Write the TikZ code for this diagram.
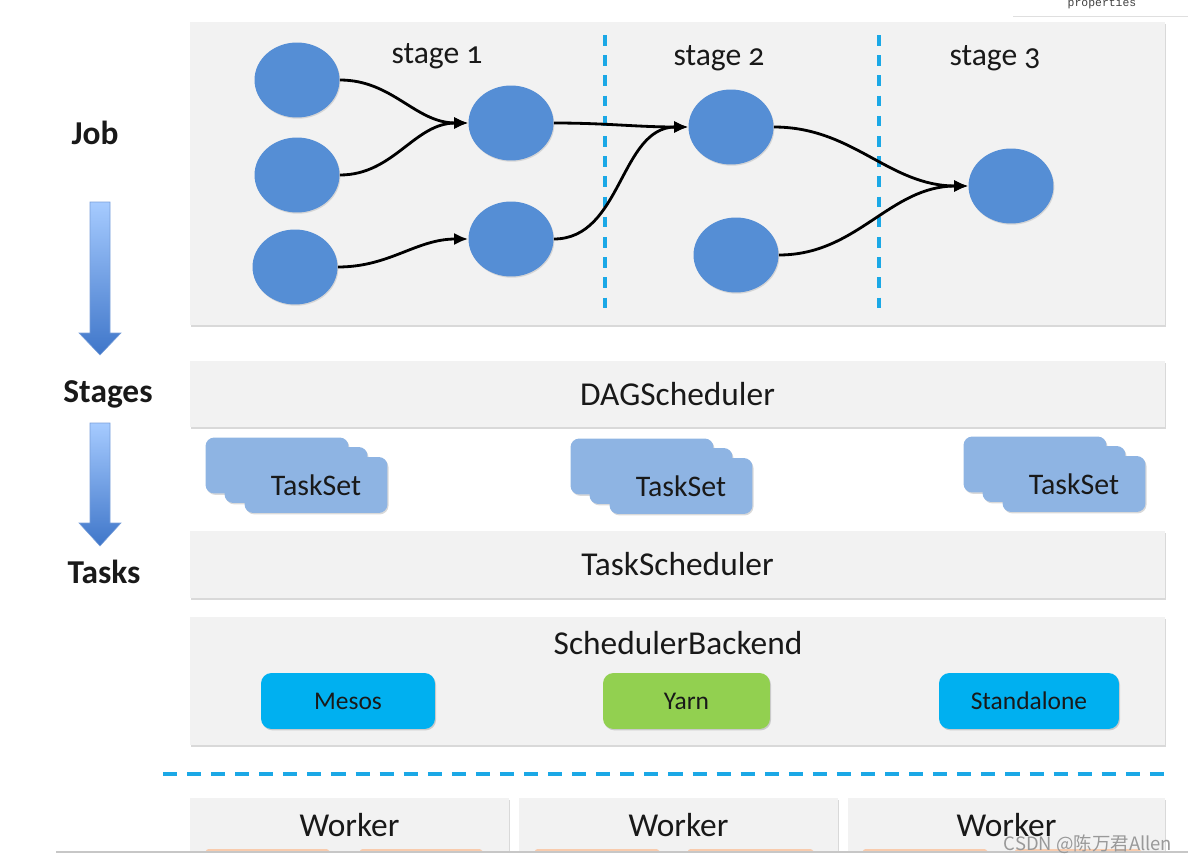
\documentclass[tikz,border=0pt]{standalone}
\usepackage{fontspec}
\setmainfont{Carlito}
\newfontfamily\stagefont[Numbers=OldStyle]{Carlito}
\newfontfamily\cjkfont{Noto Sans CJK SC}
\newfontfamily\propfont{Liberation Mono}
\usetikzlibrary{arrows.meta,shadows,positioning,shapes.geometric}
\definecolor{panelgray}{HTML}{F2F2F2}
\definecolor{stageblue}{HTML}{558ED5}
\definecolor{cardblue}{HTML}{8EB4E3}
\definecolor{skyblue}{HTML}{00B0F0}
\definecolor{dashblue}{HTML}{1BA8E6}
\definecolor{yarngreen}{HTML}{92D050}
\definecolor{peach}{HTML}{F8CBAD}
\definecolor{arrowtop}{HTML}{A6CBFF}
\definecolor{arrowbot}{HTML}{3F76C9}
\begin{document}
\begin{tikzpicture}[x=0.02cm, y=-0.02cm,
    panel/.style={rectangle, fill=panelgray, inner sep=0pt, minimum width=19.5cm,
      drop shadow={shadow xshift=0.7pt, shadow yshift=-0.9pt, opacity=0.3},
      font=\fontsize{19}{22}\selectfont, text=black!90},
    stagenode/.style={ellipse, fill=stageblue, minimum width=1.7cm, minimum height=1.5cm,
      inner sep=0pt, drop shadow={shadow xshift=0.5pt, shadow yshift=-0.7pt, opacity=0.25}},
    edge/.style={line width=1.6pt, -{Latex[length=8pt,width=7pt]}},
    card/.style={rectangle, rounded corners=5pt, fill=cardblue, minimum width=2.86cm,
      minimum height=1.12cm, inner sep=0pt,
      drop shadow={shadow xshift=0.6pt, shadow yshift=-0.8pt, opacity=0.3},
      font=\fontsize{17}{20}\selectfont, text=black!90},
    mode/.style={rectangle, rounded corners=6pt, minimum height=1.12cm, inner sep=0pt,
      drop shadow={shadow xshift=0.6pt, shadow yshift=-0.8pt, opacity=0.35},
      font=\fontsize{14.5}{17}\selectfont, text=black!90},
    sidelabel/.style={font=\bfseries\fontsize{19}{22}\selectfont, text=black!90},
    stagelabel/.style={font=\stagefont\fontsize{18}{21}\selectfont, text=black!90},
    cut/.style={dashblue, line width=2.3pt, dash pattern=on 6pt off 5.5pt},
    worker/.style={panel, minimum height=1.08cm}]

    \useasboundingbox (0,0) rectangle (1188,862);

    % Job panel with the stage graph
    \node[panel, minimum height=6.06cm] (job) at (677.5,173.5) {};
    \node[stagelabel] (L1) at (437,56) {stage 1};
    \node[stagelabel] (L2) at (719,58) {stage 2};
    \node[stagelabel] (L3) at (995,58) {stage 3};
    \draw[cut] (605,35) -- (605,315);
    \draw[cut] (879,35) -- (879,315);

    \node[stagenode] (A1) at (297,80) {};
    \node[stagenode] (A2) at (297,175) {};
    \node[stagenode] (A3) at (295,267) {};
    \node[stagenode] (B1) at (511,123) {};
    \node[stagenode] (B2) at (511,239) {};
    \node[stagenode] (C1) at (731,127) {};
    \node[stagenode] (C2) at (736,255) {};
    \node[stagenode] (D1) at (1011,186) {};

    % Draw edges
    \draw[edge] (A1.east) to[out=0, in=180] (B1.west);
    \draw[edge] (A2.east) to[out=0, in=180] (B1.west);
    \draw[edge] (A3.east) to[out=0, in=180] (B2.west);
    \draw[edge] (B1.east) to[out=0, in=180] (C1.west);
    \draw[edge] (B2.east) to[out=0, in=180] (C1.west);
    \draw[edge] (C1.east) to[out=0, in=180] (D1.west);
    \draw[edge] (C2.east) to[out=0, in=180] (D1.west);

    % Left side labels and arrows
    \node[sidelabel] (job label) at (95,133) {Job};
    \node[sidelabel] (stages label) at (108,394) {Stages};
    \node[sidelabel] (tasks label) at (104,572) {Tasks};
    \shade[top color=arrowtop, bottom color=arrowbot, draw=arrowbot!70, line width=0.3pt]
      (90,202) -- (110,202) -- (110,333) -- (121,333) -- (100,355) -- (79,333) -- (90,333) -- cycle;
    \shade[top color=arrowtop, bottom color=arrowbot, draw=arrowbot!70, line width=0.3pt]
      (90,423) -- (110,423) -- (110,523) -- (121,523) -- (100,546) -- (79,523) -- (90,523) -- cycle;

    % Scheduler layers
    \node[panel, minimum height=1.32cm] (dag) at (677.5,394) {DAGScheduler};

    \node[card] (T1a) at (277,465.5) {};
    \node[card] (T1b) at ([shift={(19,9.5)}]T1a) {};
    \node[card] (T1c) at ([shift={(20,10)}]T1b) {TaskSet};
    \node[card] (T2a) at (642,466.5) {};
    \node[card] (T2b) at ([shift={(19,9.5)}]T2a) {};
    \node[card] (T2c) at ([shift={(20,10)}]T2b) {TaskSet};
    \node[card] (T3a) at (1035,464.5) {};
    \node[card] (T3b) at ([shift={(19,9.5)}]T3a) {};
    \node[card] (T3c) at ([shift={(20,10)}]T3b) {TaskSet};

    \node[panel, minimum height=1.34cm] (task) at (677.5,564.5) {TaskScheduler};

    \node[panel, minimum height=2.56cm] (backend) at (677.5,681) {};
    \node[font=\fontsize{19}{22}\selectfont, text=black!90] (backend title) at (678,643) {SchedulerBackend};
    \node[mode, fill=skyblue, minimum width=3.48cm] (mesos) at (348,701) {Mesos};
    \node[mode, fill=yarngreen, minimum width=3.34cm] (yarn) at (686.5,701) {Yarn};
    \node[mode, fill=skyblue, minimum width=3.6cm] (standalone) at (1029,701) {Standalone};

    % Cluster side
    \draw[dashblue, line width=2.3pt, dash pattern=on 8pt off 5.7pt] (163,774) -- (1165,774);

    \node[worker, minimum width=6.38cm] (W1) at (349.5,825) {Worker};
    \node[worker, minimum width=6.38cm] (W2) at (678.5,825) {Worker};
    \node[worker, minimum width=6.34cm] (W3) at (1006.5,825) {Worker};
    \foreach \xa/\xb in {206/329, 360/482, 535/659, 688/813, 863/987, 1015/1141}
      \fill[peach, rounded corners=1.5pt] (\xa,849) rectangle (\xb,853);
    \fill[white] (0,852.5) rectangle (1188,862);
    \draw[black!22, line width=0.9pt] (56,852) -- (1188,852);

    % Corner remnants
    \node[fill=white, minimum width=3.5cm, minimum height=0.32cm, inner sep=0pt,
      drop shadow={shadow xshift=0pt, shadow yshift=-0.6pt, opacity=0.25}] (prop box) at (1100.5,8) {};
    \node[font=\propfont\fontsize{6.5}{7}\selectfont, text=black!75] (prop) at (1102,4) {properties};
    \node[font=\cjkfont\fontsize{10.5}{12}\selectfont, text=black!40] (mark) at (1088,844) {CSDN @陈万君Allen};
\end{tikzpicture}
\end{document}
